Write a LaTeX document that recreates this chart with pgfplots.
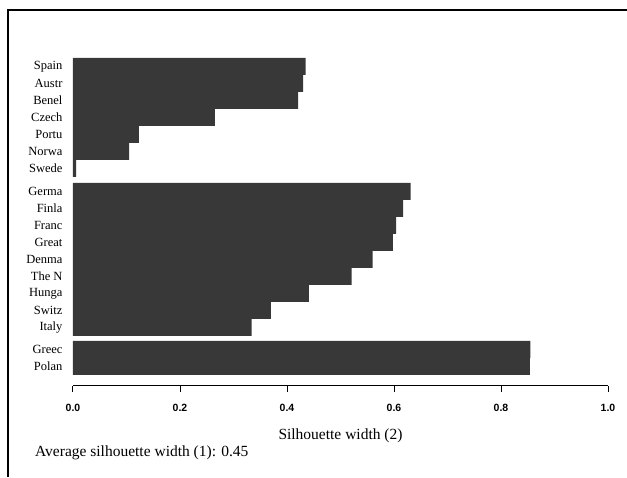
\documentclass[border=0pt]{standalone}
\usepackage{pgfplots}
\pgfplotsset{compat=1.18}
\usepackage{pgfplotstable}
\usepackage{fontspec}
\setmainfont{Liberation Serif}
\newfontfamily\tickfont{Liberation Sans}
\pgfplotstableread{
w y
0.435 0
0.430 -1
0.421 -2
0.265 -3
0.123 -4
0.105 -5
0.006 -6
0.631 -7.35
0.617 -8.35
0.604 -9.35
0.598 -10.35
0.560 -11.35
0.521 -12.35
0.441 -13.35
0.370 -14.35
0.334 -15.35
0.855 -16.65
0.854 -17.65
}\silh
\begin{document}
\begin{tikzpicture}
\useasboundingbox (0pt,0pt) rectangle (627pt,477pt);
\draw[line width=1.3pt] (8pt,0pt) -- (8pt,467pt) -- (627pt,467pt);
\begin{axis}[
  at={(73pt,419pt)}, anchor=north west,
  scale only axis, width=535pt, height=328pt,
  xmin=0, xmax=1, ymin=-18.8, ymax=0.5,
  axis x line*=bottom, axis y line*=left,
  y axis line style={draw=none},
  ytick style={draw=none},
  x axis line style={line width=1pt},
  xtick style={line width=1pt, black},
  tick align=outside, major tick length=6pt,
  xtick={0,0.2,0.4,0.6,0.8,1.0},
  xticklabels={0.0,0.2,0.4,0.6,0.8,1.0},
  xticklabel style={font=\tickfont\bfseries\fontsize{10.5}{12}\selectfont, yshift=-9pt},
  ytick={0,-1,-2,-3,-4,-5,-6,-7.35,-8.35,-9.35,-10.35,-11.35,-12.35,-13.35,-14.35,-15.35,-16.65,-17.65},
  yticklabels={Spain,Austr,Benel,Czech,Portu,Norwa,Swede,Germa,Finla,Franc,Great,Denma,The N,Hunga,Switz,Italy,Greec,Polan},
  yticklabel style={font=\fontsize{12.5}{14}\selectfont, xshift=-1pt},
  xlabel={Silhouette width (2)},
  xlabel style={font=\fontsize{15.5}{18}\selectfont, yshift=-10pt},
  /pgf/number format/assume math mode=true,
  clip=false,
]
\addplot[xbar, bar width=1, fill=black!78, draw=none] table[x=w, y=y] {\silh};
\end{axis}
\node[anchor=west, inner sep=0pt, font=\fontsize{15.5}{18}\selectfont] at (35pt,24pt) {Average silhouette width (1): 0.45};
\end{tikzpicture}
\end{document}
